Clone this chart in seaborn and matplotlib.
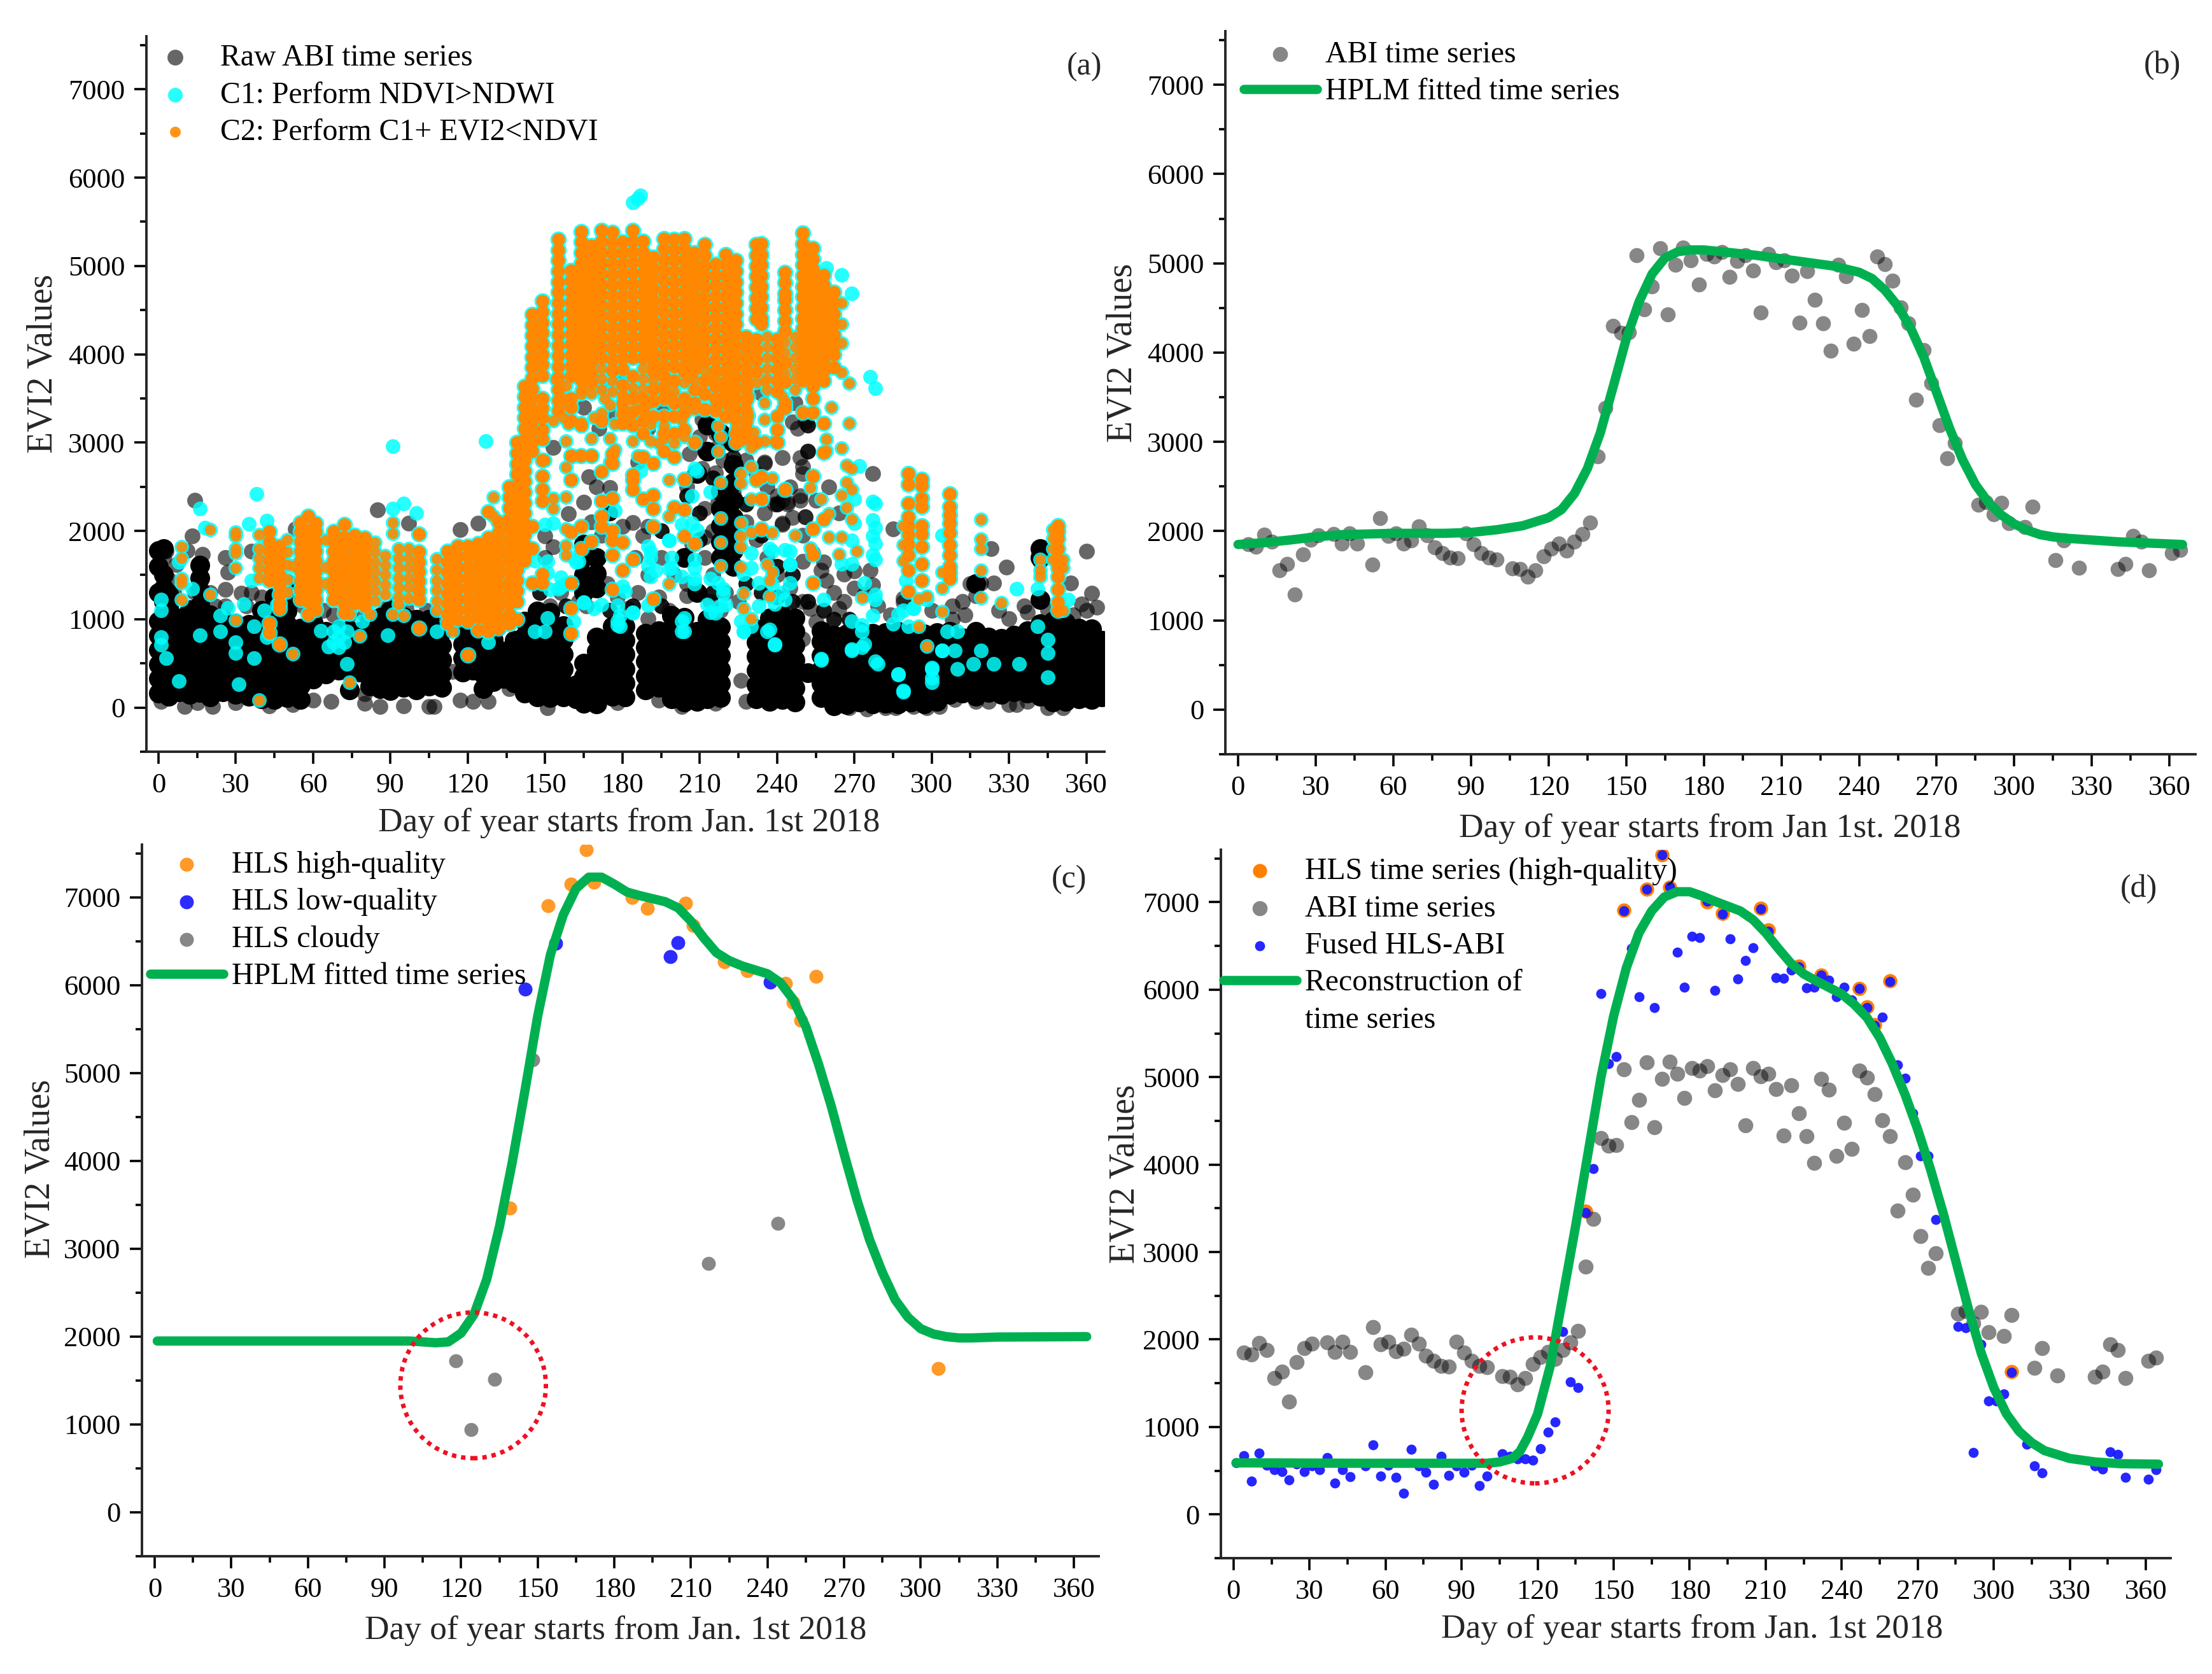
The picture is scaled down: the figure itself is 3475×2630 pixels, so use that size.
import matplotlib
matplotlib.use("Agg")
import matplotlib.pyplot as plt
import seaborn as sns
from matplotlib.patches import Ellipse

sns.set_theme(style="ticks")
plt.rcParams['font.family'] = ['Liberation Serif', 'DejaVu Serif']

W, H = 3475, 2630

x_ticks = list(range(0, 361, 30))
y_ticks = list(range(0, 7001, 1000))

# panel (a): solid black part of the raw ABI cloud, (day, values)
raw_core_q1 = [
    (0, [160, 330, 490, 650, 820, 980, 1300, 1600, 1780]), (2, [1050, 1200, 1350, 1500, 1800]), (4, [130, 300, 470, 610, 790, 950, 1130, 1290]),
    (8, [180, 340, 510, 680, 840, 1010]), (12, [150, 310, 470, 640, 810, 960, 1110]),
    (16, [170, 330, 500, 660, 830, 990, 1160, 1320, 1470, 1610]), (20, [120, 290, 450, 610, 790, 950, 1050]),
    (25, [180, 350, 510, 680, 840, 1000]), (30, [150, 310, 480, 640, 810, 950]),
    (35, [130, 300, 460, 630, 790, 940]), (40, [100, 270, 430, 600, 760, 920, 1100]),
    (45, [90, 250, 420, 580, 750, 910, 1080, 1250]), (50, [110, 280, 440, 610, 770, 940, 1090, 1240, 1400]),
    (55, [90, 250, 410, 580, 740, 900]), (60, [320, 480, 640, 800, 960]),
    (65, [380, 540, 700, 860]), (70, [420, 570, 730, 880]),
    (74, [200, 400, 560, 720, 880]), (78, [400, 560, 720, 860]),
    (82, [240, 390, 550, 710, 870, 1000]), (86, [210, 370, 530, 690, 860, 1020]),
]
raw_core_q2 = [
    (90, [190, 350, 510, 680, 840, 1000, 1100]), (95, [230, 390, 550, 710, 870, 1030]),
    (100, [200, 360, 520, 690, 850, 1000]), (105, [240, 400, 560, 720, 880, 1000]),
    (110, [230, 380, 540, 700, 860]), (118, [400, 560, 720, 880]), (122, [420, 580, 740, 900]),
    (126, [210, 380, 540, 690]), (130, [290, 450, 610, 770]), (134, [330, 480, 640]),
    (138, [280, 440, 600, 760]), (142, [160, 330, 490, 650, 810, 980]),
    (147, [120, 280, 440, 610, 770, 930, 1090]), (152, [110, 270, 430, 590, 760, 920, 1080]),
    (157, [120, 280, 440, 600, 770, 930]), (162, [100, 260]),
    (165, [50, 200, 350, 500, 1300, 1500, 1700, 1850]), (170, [40, 190, 340, 490, 640, 800, 1350, 1520, 1700]),
    (176, [130, 290, 450, 600, 760, 920]), (181, [120, 280, 440, 600, 760, 920]),
]
raw_core_q3 = [
    (189, [200, 360, 520, 680, 840]), (194, [230, 390, 550, 710, 870]),
    (199, [100, 260, 420, 580, 740, 900, 1040]), (204, [60, 220, 380, 540, 700, 860, 1020, 1700]),
    (209, [70, 230, 390, 540, 700, 860, 1300, 2650]), (213, [100, 260, 420, 590, 740, 880, 1000, 2900, 3200]),
    (218, [110, 270, 430, 590, 750, 910, 1700, 1880, 2060, 2250, 2450, 3100]),
    (223, [1600, 1780, 1960, 2150, 2350, 2550, 2750, 3000]), (232, [100, 260, 420, 580, 740, 890]),
    (237, [70, 230, 390, 550, 710, 870, 1010]), (242, [90, 250, 410, 570, 730, 880, 1040]),
    (247, [60, 220, 380, 540, 700, 860, 1010]), (252, [390]),
    (257, [110, 270, 430, 590, 750, 870]), (262, [20, 180, 340, 500, 660, 820]),
    (267, [30, 190, 350, 510, 670, 830]), (272, [60, 220, 380, 540, 700, 860]),
]
raw_core_q4 = [
    (277, [40, 200, 360, 520, 680, 840]), (282, [50, 210, 370, 530, 690, 850]),
    (287, [40, 190, 350, 520, 680, 860]), (292, [60, 220, 380, 530, 690, 840]),
    (297, [40, 200, 360, 520, 680, 830]), (302, [70, 230, 390, 550, 700, 850]),
    (307, [150, 300, 460, 620, 780, 860]), (312, [160, 320, 470, 630, 790]),
    (317, [130, 290, 450, 610, 770, 860, 1400]), (322, [170, 330, 480, 640, 800]),
    (327, [150, 310, 470, 630, 780]), (332, [180, 340, 500, 650, 820]),
    (337, [160, 320, 480, 640, 800, 870]), (342, [130, 290, 450, 600, 770, 950, 1220, 1700, 1800]),
    (347, [60, 220, 380, 540, 700, 860, 980]), (352, [70, 230, 390, 550, 710, 870, 960]),
    (357, [100, 260, 420, 580, 740, 900]), (362, [90, 250, 410, 570, 730, 890]),
    (366, [120, 280, 440, 600, 760]),
]
# panel (a): darker raw clumps between the two clouds
raw_dark = [
    (148, [1300]), (158, [1150]), (175, [1100, 2200]), (184, [1150]), (195, [2000, 1150]), (205, [2400]),
    (210, [1900, 2200]), (215, [2600, 1300]), (228, [1400, 2300]), (234, [1300, 1950]), (240, [1250, 1600, 2300]),
    (246, [1200, 1500]), (252, [1200, 3200, 2900]), (258, [1100]), (262, [1000]), (268, [1000]),
]

# panel (a): separate translucent raw ABI points
raw_days = [14, 3, 1, 13, 17, 26, 27, 26, 32, 36, 85, 97, 117, 124, 53, 1, 10, 21, 15, 30, 38, 43, 52, 60, 67,
            80, 80, 86, 95, 105, 107, 117, 122, 57, 114, 128, 136, 151, 161, 171, 178, 194, 203, 216, 228, 226,
            175, 184, 167, 153, 165, 188, 212, 212, 217, 242, 235, 239, 251, 249, 244, 216, 211, 249, 250, 205,
            190, 198, 159, 150, 223, 223, 223, 223, 179, 173, 165, 241, 234, 247, 246, 248, 251, 235, 153, 196,
            211, 223, 206, 210, 217, 190, 171, 176, 186, 277, 250, 242, 249, 244, 251, 242, 257, 259, 266, 276,
            277, 253, 264, 255, 250, 285, 323, 329, 360, 362, 364, 358, 315, 324, 319, 317, 308, 313, 337, 330,
            342, 342, 342, 354, 253, 268, 275, 282, 286, 293, 298, 303, 309, 317, 322, 330, 333, 337, 345, 351,
            359, 365, 289, 1, 11, 7, 5]
raw_vals = [2348, 1772, 1580, 1940, 1736, 1700, 1532, 1340, 1292, 1772, 2240, 2084, 2012, 2084, 2024, 70, 10, 10,
            58, 58, 118, 20, 33, 82, 70, 153, 46, 10, 22, 10, 10, 82, 70, 310, 405, 70, 215, -2, 140, 33, 58, 82,
            10, 46, 70, 310, 2490, 2096, 2611, 1820, 2324, 1940, 1928, 2252, 2324, 2084, 2767, 2300, 2156, 2395,
            2300, 2659, 2707, 2827, 1652, 1268, 1004, 1100, 2192, 1940, 2827, 2443, 2132, 1772, 3715, 3620, 3400,
            3666, 3560, 3450, 3235, 3163, 3235, 2780, 2948, 3400, 3260, 2830, 2875, 3066, 2950, 3163, 3163, 3330,
            2780, 2647, 2731, 2827, 2347, 2324, 2156, 2072, 1556, 1436, 1508, 1556, 1388, 1124, 1124, 969, 777,
            2024, 1796, 1592, 1772, 1292, 1136, 1172, 1400, 1412, 1412, 1268, 1148, 1052, 1077, 1005, 1796, 1652,
            1220, 1412, 381, -2, -15, -2, -2, 10, -2, 10, 94, 70, 70, 33, 33, 70, -2, -2, 94, 118, 1196, 1300, 1780,
            1620, 1240]
raw_mid_days = [152, 156, 150, 163, 166, 168, 172, 174, 178, 182, 186, 190, 194, 170, 175, 180, 185, 190, 195, 200,
                205, 210, 214, 218, 215, 220, 225, 207, 212, 215, 222, 228, 232, 236, 240, 245, 250, 235, 240, 245,
                250, 228, 232, 236, 242, 246, 250, 254, 258, 262, 266, 270, 255, 260, 264, 270, 274, 279, 284, 289,
                300, 308, 312, 326, 336, 345, 355, 360, 205, 208, 212, 216, 219, 213, 220, 224, 2, 6, 4, 2, 14, 20,
                22, 26, 34, 40, 36, 44, 52, 56, 60, 64, 68, 74, 80, 88, 92, 96, 104, 110, 114, 118, 124, 128, 132, 136]
raw_mid_vals = [1150, 1300, 1700, 1200, 1150, 2100, 1950, 1400, 1250, 1120, 1300, 1500, 1250, 2500, 2200, 2050, 1700,
                2050, 1700, 1500, 1400, 1300, 1200, 1100, 1500, 1300, 1200, 1850, 1700, 2000, 2400, 2100, 1900, 1700,
                1500, 1350, 1200, 2200, 2400, 2500, 2650, 2800, 2650, 2500, 2350, 2150, 1950, 1750, 1650, 1300, 1200,
                1350, 2350, 2500, 2200, 1550, 1280, 1150, 1050, 1240, 1100, 1000, 1200, 1100, 1150, 1100, 1050, 1100,
                2500, 2650, 2900, 3100, 2800, 3200, 3350, 3000, 1250, 1300, 1450, 1700, 1300, 1300, 1150, 1150, 1150,
                1250, 1300, 1500, 1200, 1150, 1150, 1100, 1050, 1050, 1050, 1120, 1180, 1120, 1100, 1000, 950, 1000,
                1100, 1050, 900, 1000]

# panel (a): points that pass C1 but not C2
c1_days = [1, 1, 1, 1, 3, 8, 8, 16, 18, 13, 16, 24, 27, 24, 30, 30, 31, 33, 35, 38, 36, 37, 37, 42, 41, 42, 46, 63,
           68, 68, 70, 73, 73, 70, 79, 89, 91, 91, 95, 100, 108, 127, 128, 146, 151, 150, 151, 155, 161, 162, 158,
           165, 172, 179, 179, 184, 180, 187, 190, 193, 198, 199, 204, 204, 208, 208, 209, 209, 213, 219, 216,
           220, 227, 230, 230, 236, 239, 243, 245, 245, 238, 238, 257, 258, 259, 265, 269, 276, 278, 269, 273,
           273, 279, 278, 278, 278, 278, 278, 272, 287, 289, 285, 291, 293, 298, 300, 300, 304, 306, 310, 309,
           310, 304, 316, 319, 324, 334, 333, 341, 345, 345, 345, 341, 353, 184, 187, 186, 70, 72, 66]
c1_vals = [1100, 1220, 800, 710, 557, 297, 1646, 2252, 2040, 1344, 817, 1041, 1132, 860, 617, 738, 266, 1174, 2082,
           2421, 1435, 920, 557, 2119, 1100, 800, 1162, 870, 860, 740, 920, 860, 496, 680, 980, 817, 2960, 2252,
           2312, 2203, 860, 3020, 740, 860, 1010, 860, 1525, 1344, 980, 1646, 1404, 1192, 1162, 1041, 920, 1071,
           1374, 2675, 1828, 1556, 1889, 1586, 1011, 860, 1586, 1404, 2010, 2675, 1162, 1344, 1071, 1162, 860, 920,
           1586, 860, 708, 1222, 1616, 1768, 1768, 1404, 539, 1222, 4976, 4897, 4691, 3741, 3614, 648, 860, 680,
           496, 1283, 2312, 2040, 1858, 1677, 2736, 375, 175, 950, 920, 1132, 1222, 436, 284, 648, 860, 860, 648,
           436, 1950, 496, 648, 496, 496, 1344, 920, 617, 345, 769, 1344, 1222, 5720, 5800, 5760, 800, 740, 690]
c1_mid_days = [150, 153, 146, 151, 156, 156, 152, 163, 161, 165, 169, 178, 178, 178, 177, 181, 184, 190, 191, 191, 190,
               191, 198, 199, 198, 203, 207, 208, 214, 203, 207, 208, 208, 214, 217, 219, 218, 214, 203, 203, 230, 227,
               226, 227, 233, 237, 243, 245, 245, 242, 233, 239, 237, 239, 277, 277, 277, 277, 270, 270, 269, 265, 269,
               274, 278, 273, 269, 277, 269, 274, 257, 278, 287, 289, 287, 290, 289, 293, 300, 300, 304]
c1_mid_vals = [2072, 2084, 1664, 1652, 1472, 1364, 1340, 1652, 1700, 1185, 1124, 1160, 980, 932, 2228, 1316, 1077, 1160,
               1760, 1700, 1604, 1484, 1892, 1700, 1568, 1484, 2395, 2707, 2443, 2072, 2084, 1676, 1460, 1460, 1412, 1292,
               1148, 1077, 980, 860, 1748, 1508, 980, 860, 1412, 1796, 1784, 1616, 1412, 1304, 1148, 1172, 885, 717, 2335,
               2120, 1940, 1724, 2360, 2084, 1892, 1628, 1628, 1412, 1220, 933, 980, 1040, 657, 717, 549, 525, 381, 190,
               1053, 1436, 1100, 1124, 453, 333, 645]

# panel (a): points that pass C2, low season columns
c2_low = [
    (9, [1820, 1688, 1460, 1412, 1220]), (20, [2012, 1280]), (30, [1988, 1940, 1796, 1748, 1580, 993]),
    (39, [1960, 1800, 1690, 1580, 1470, 81]), (43, [1990, 1880, 1770, 1660, 1550, 1440, 956, 849]),
    (47, [1830, 1720, 1610, 1500, 1390, 1280, 1180, 1120, 717]), (50, [1900, 1760, 1620, 1450, 1310]),
    (52, [1604, 610]), (55, [2095, 1990, 1880, 1770, 1660, 1550, 1440, 1330, 1220]),
    (58, [2168, 2010, 1880, 1770, 1660, 1550, 1440, 1330, 1200, 1053]),
    (61, [2084, 1990, 1880, 1770, 1660, 1550, 1440, 1330, 1220, 1110]), (65, [1900, 1590, 1400]),
    (68, [1990, 1880, 1770, 1660, 1550, 1440, 1330, 1220]),
    (72, [2072, 1930, 1820, 1710, 1600, 1490, 1380, 1270, 1160, 1070]),
    (74, [285, 1053]), (76, [1950, 1840, 1730, 1620, 1510, 1400, 1290, 1180]), (78, [813]),
    (80, [1920, 1810, 1700, 1590, 1480, 1370, 1260, 1150]), (82, [1053]),
    (84, [1870, 1760, 1650, 1540, 1430, 1320, 1210]), (88, [1720, 1610, 1500, 1390, 1280]),
    (91, [2096, 1975, 1053]), (93, [1800, 1690, 1580, 1470, 1360, 1250, 1170]),
    (95, [1040]), (97, [1800, 1690, 1580, 1470, 1360, 1240]), (101, [1964, 1760, 1650, 1540, 1430, 1320, 1220, 897]),
]
c2_spring = [
    (108, [1680, 1560, 1440, 1330, 1210, 1100]), (112, [1770, 1650, 1530, 1410, 1290, 1180, 1060, 957]),
    (114, [861]), (116, [1830, 1710, 1590, 1470, 1350, 1230, 1110, 1000]),
    (120, [1830, 1710, 1590, 1470, 1350, 1230, 1110, 980, 597]), (124, [1860, 1740, 1620, 1500, 1380, 1260, 1140, 1020, 880]),
    (128, [2220, 1920, 1800, 1680, 1560, 1440, 1320, 1200, 1080, 960, 860]), (130, [2384, 2168]),
    (132, [2100, 1980, 1860, 1740, 1620, 1500, 1380, 1260, 1140, 1020, 900]),
    (136, [2500, 2380, 2260, 2140, 2020, 1900, 1780, 1660, 1540, 1420, 1300, 1180, 1060, 950]),
    (139, [3000, 2880, 2760, 2640, 2520, 2400, 2280, 2160, 2040, 1920, 1800, 1680, 1560, 1440, 1320, 1200, 1000]),
    (142, [3640, 3520, 3400, 3280, 3160, 3040, 2920, 2800, 2680, 2560, 2440, 2320, 2200, 2080, 1960, 1840, 1700, 1664]),
    (145, [4450, 4330, 4210, 4090, 3970, 3850, 3730, 3610, 3490, 3370, 3250, 3130, 3010, 2900, 2048, 1796, 1412]),
    (149, [4600, 4480, 4360, 4240, 4120, 4000, 3880, 3760, 3500, 3390, 3280, 3150, 3040, 2803, 2623, 2467, 2336, 1508, 1412]),
]
# panel (a): C2 columns of the summer plateau
c2_summer_1 = [
    (153, [2371, 2252]),
    (155, [5300, 5180, 5060, 4940, 4820, 4700, 4580, 4460, 4340, 4220, 4100, 3980, 3860, 3740, 3600, 3480, 3360]),
    (158, [2719, 2384, 2024, 1832, 1724]),
    (160, [4950, 4830, 4710, 4590, 4470, 4350, 4230, 4110, 3990, 3870, 3750, 3500, 3400, 3250, 2851, 2575, 1988, 1412, 1124, 837]),
    (164, [5390, 5270, 5150, 5030, 4910, 4790, 4670, 4550, 4430, 4310, 4190, 4070, 3950, 3830, 3710, 3200, 2851, 2048, 1796]),
    (168, [5230, 5110, 4990, 4870, 4750, 4630, 4510, 4390, 4270, 4150, 4030, 3910, 3790, 3670, 2851, 1875]),
    (172, [5400, 5280, 5160, 5040, 4920, 4800, 4680, 4560, 4440, 4320, 4200, 4080, 3960, 3250, 2671, 2336, 2168, 2048]),
    (176, [5380, 5260, 5140, 5020, 4900, 4780, 4660, 4540, 4420, 4300, 4180, 4060, 3940, 3820, 2875, 2767, 2371, 2000, 1892, 1724, 1340]),
    (180, [5270, 5150, 5030, 4910, 4790, 4670, 4550, 4430, 4310, 4190, 4070, 3950, 3830, 3650, 3440, 3330, 3220, 1868, 1556]),
    (184, [5400, 5280, 5160, 5040, 4920, 4800, 4680, 4560, 4440, 4320, 4200, 4080, 3960, 3750, 3500, 3350, 3200, 2635, 2575, 2467, 1676]),
    (188, [5280, 5160, 5040, 4920, 4800, 4680, 4560, 4440, 4320, 4200, 4080, 3960, 3500, 3380, 3250, 3100, 2839, 2360]),
    (192, [5100, 4980, 4860, 4740, 4620, 4500, 4380, 4260, 4140, 4020, 3900, 3800, 3600, 3470, 3300, 2767, 2407, 2252, 2048, 1232]),
    (196, [5310, 5190, 5070, 4950, 4830, 4710, 4590, 4470, 4350, 4230, 4110, 3990, 3870, 3750, 3630, 3500, 3300, 3100, 2900]),
    (198, [2575, 2168, 1400]),
]
c2_summer_2 = [
    (200, [5300, 5180, 5060, 4940, 4820, 4700, 4580, 4460, 4340, 4220, 4100, 3980, 3860, 3700, 3450, 3300, 3100, 2839, 2264]),
    (204, [5310, 5190, 5070, 4950, 4830, 4710, 4590, 4470, 4350, 4230, 4110, 3990, 3870, 3800, 3500, 3340, 3150, 2587, 2240, 1940]),
    (208, [5150, 5030, 4910, 4790, 4670, 4550, 4430, 4310, 4190, 4070, 3950, 3830, 3600, 3450, 3000, 1856]),
    (212, [5240, 5120, 5000, 4880, 4760, 4640, 4520, 4400, 4280, 4160, 4040, 3920, 3700, 3550, 3380]),
    (216, [5020, 4900, 4780, 4660, 4540, 4420, 4300, 4180, 4060, 3940, 3820, 3640, 3500, 3360]),
    (218, [2551, 2144, 1868, 1604]),
    (220, [5130, 5010, 4890, 4770, 4650, 4530, 4410, 4290, 4170, 4050, 3930, 3810, 3690, 3570, 3450, 3300]),
    (224, [5060, 4940, 4820, 4700, 4580, 4460, 4340, 4220, 4100, 3980, 3860, 3740, 3620, 3500, 3380, 3260, 3100, 3000]),
    (226, [2647, 2539, 2096, 1940, 1820, 1592]), (227, [1292, 1124]),
    (228, [4200, 4080, 3960, 3840, 3720, 3600, 3480, 3360, 3240, 3150, 3050]),
    (230, [2731, 2360, 1988, 1004]),
    (232, [5240, 5120, 5000, 4880, 4760, 4640, 4520, 4400, 4170, 4050, 3930, 3800, 3000, 2575]),
    (234, [5250, 5130, 5010, 4890, 4770, 4650, 4530, 4410, 4340, 2611, 2360, 2024]),
    (236, [4200, 4080, 3960, 1616]), (238, [2599, 1976, 1532]), (237, [1436, 1256]),
    (240, [4170, 4060, 3950, 3830, 3700, 3580, 3300, 3150, 3000]),
    (243, [4930, 4810, 4690, 4620, 4500, 4380, 4260, 3900, 3690, 3450, 3390, 2467]),
    (247, [4200, 4080, 3960, 3840, 3720, 1952]),
    (250, [5370, 5250, 5130, 5010, 4890, 4770, 4650, 4530, 4410, 4290, 4170, 4050, 3930, 3810, 3700, 3340]),
]
c2_autumn = [
    (253, [2491, 1808]), (254, [5200, 5080, 4960, 4840, 4720, 4600, 4480, 4360, 4240, 4120, 4000, 3880, 3760, 3640, 3500, 3340, 2623, 2024, 1736, 1412]),
    (257, [2360]), (258, [4900, 4780, 4660, 4540, 4420, 4300, 4180, 4060, 3940, 3820, 3700, 3220, 2887, 2132]),
    (259, [3040, 2911]), (260, [2192, 1928]), (261, [3400]), (262, [4700, 4580, 4460, 4340, 4220, 4100, 4000, 3850]),
    (264, [1736]), (265, [4580, 4340, 4128, 3795, 2935, 2407, 1928]), (267, [2743, 2551, 2264]),
    (268, [3674, 3220]), (269, [2707, 2467, 2132]), (271, [1772]), (273, [1244]),
    (289, [2060, 1844, 1664]), (291, [2647, 2527, 2312, 2156, 2060, 1960, 1850, 1724, 1556, 1316]),
    (295, [1232, 920]), (296, [2587, 2515, 2371, 2276, 2060, 1964, 1820, 1628, 1436]), (298, [1256, 693]),
    (304, [1532, 1352, 1088]), (307, [2419, 2276, 2180, 2084, 1976, 1844, 1724, 1600, 1532, 1460]),
    (319, [2132, 1904, 1796, 1556, 1244]), (327, [1184]), (342, [1676, 1556, 1484]),
    (347, [2012, 1916, 1796, 1676]), (349, [2060, 1990, 1916, 1796, 1676, 1580, 1480, 1340, 1196, 1100]), (351, [1676, 1580, 1100]),
]
# panel (a): loose C2 points under the plateau
c2_mid_days = [157, 159, 164, 165, 158, 154, 173, 172, 175, 180, 180, 185, 186, 183, 177, 175, 168, 169, 164, 159, 157,
               153, 158, 150, 160, 168, 163, 175, 177, 184, 186, 191, 191, 191, 196, 196, 203, 204, 199, 196, 194, 204,
               200, 206, 208, 211, 214, 216, 217, 218, 217, 221, 223, 221, 224, 226, 230, 235, 239, 229, 229, 235, 235,
               235, 229, 242, 242, 231, 228,
               164, 168, 172, 172, 172, 176, 176, 180, 184, 188, 188, 188, 192, 200, 204, 208, 212, 216, 232, 236, 236,
               236, 243, 243, 243, 247]
c2_mid_vals = [3500, 3427, 3547, 3643, 3643, 3715, 3500, 3331, 3427, 3523, 3379, 3523, 3379, 3259, 3211, 3044, 3044, 3284,
               3223, 3211, 3284, 3247, 3020, 2803, 2840, 2852, 2852, 2780, 2924, 3020, 2852, 3020, 3211, 3451, 3595, 3187,
               3259, 3427, 3523, 3044, 2996, 3068, 2996, 3739, 3379, 3595, 3739, 3415, 3187, 3068, 2900, 3619, 3451, 3331,
               3163, 3020, 2948, 3020, 3020, 3523, 3667, 3691, 3451, 3259, 3307, 3523, 3379, 3115, 3044,
               3590, 3560, 3840, 3720, 3600, 3700, 3580, 3540, 3620, 3840, 3720, 3610, 3700, 3580, 3680, 3710, 3820, 3730,
               3680, 3840, 3720, 3600, 4140, 4020, 3780, 3600]

# ABI composite used in (b) and (d)
abi_days = [4, 7, 10, 13, 16, 19, 22, 25, 28, 31, 37, 40, 43, 46, 52, 55, 58, 61, 64, 67, 70, 73, 76, 79, 82, 85, 88, 91,
            94, 97, 100, 106, 109, 112, 115, 118, 121, 124, 127, 130, 133, 136, 139, 142, 145, 148, 151, 154, 157, 160,
            163, 166, 169, 172, 175, 178, 181, 184, 187, 190, 193, 196, 199, 202, 205, 208, 211, 214, 217, 220, 223,
            226, 229, 232, 235, 238, 241, 244, 247, 250, 253, 256, 259, 262, 265, 268, 271, 274, 277, 286, 289, 292,
            295, 298, 304, 307, 316, 319, 325, 340, 343, 346, 349, 352, 361, 364]
abi_vals = [1851, 1827, 1959, 1881, 1562, 1634, 1292, 1742, 1905, 1953, 1965, 1857, 1971, 1857, 1628, 2145, 1947, 1971,
            1863, 1893, 2055, 1953, 1815, 1755, 1700, 1694, 1977, 1851, 1755, 1700, 1682, 1580, 1574, 1490, 1562, 1718,
            1803, 1857, 1779, 1881, 1965, 2097, 2836, 3377, 4302, 4218, 4224, 5089, 4482, 4741, 5167, 4428, 4981, 5179,
            5035, 4759, 5107, 5077, 5125, 4849, 5023, 5089, 4921, 4446, 5101, 5011, 5035, 4861, 4332, 4909, 4590, 4326,
            4020, 4981, 4855, 4098, 4476, 4182, 5077, 4993, 4806, 4506, 4326, 3473, 4026, 3659, 3185, 2818, 2986, 2295,
            2325, 2187, 2313, 2085, 2043, 2277, 1676, 1899, 1592, 1574, 1634, 1947, 1881, 1562, 1755, 1791]

fit_b_days = [0, 10, 20, 30, 40, 60, 80, 90, 100, 110, 120, 125, 130, 135, 140, 145, 150, 155, 160, 165, 170, 175, 180, 190,
              200, 210, 220, 230, 240, 245, 250, 255, 260, 265, 270, 275, 280, 285, 290, 295, 300, 305, 310, 315, 320,
              340, 365]
fit_b_vals = [1850, 1870, 1900, 1935, 1960, 1975, 1975, 1985, 2015, 2060, 2150, 2240, 2420, 2700, 3100, 3620, 4150, 4570,
              4880, 5060, 5130, 5150, 5150, 5120, 5090, 5050, 5010, 4970, 4900, 4830, 4700, 4520, 4270, 3950, 3550, 3150,
              2800, 2520, 2320, 2180, 2080, 2010, 1960, 1935, 1920, 1880, 1850]

# HLS classes used in (c) and (d)
hq_days = [139, 154, 163, 169, 172, 187, 193, 208, 211, 223, 232, 247, 250, 253, 259, 307]
hq_vals = [3466, 6908, 7152, 7543, 7170, 7000, 6872, 6933, 6682, 6267, 6164, 6017, 5804, 5602, 6102, 1635]
lq_days = [145, 157, 202, 205, 241]
lq_vals = [5956, 6475, 6328, 6487, 6035]
cloudy_days = [118, 124, 133, 148, 217, 244]
cloudy_vals = [1727, 940, 1513, 5150, 2832, 3289]

fit_c_days = [1, 50, 100, 110, 115, 120, 125, 130, 135, 140, 145, 150, 155, 160, 165, 170, 175, 180, 185, 190, 200, 205, 210,
              215, 220, 225, 230, 240, 245, 250, 255, 260, 265, 270, 275, 280, 285, 290, 295, 300, 305, 310, 315, 320, 330, 365]
fit_c_vals = [1950, 1950, 1950, 1930, 1940, 2040, 2250, 2650, 3250, 3980, 4800, 5650, 6350, 6800, 7100, 7230, 7230, 7150, 7060,
              7020, 6950, 6880, 6730, 6540, 6370, 6280, 6220, 6130, 6030, 5840, 5530, 5100, 4620, 4080, 3560, 3100, 2730, 2420,
              2220, 2090, 2030, 2000, 1985, 1985, 1995, 2000]

fused_days = [1, 4, 7, 10, 13, 16, 19, 22, 25, 28, 31, 34, 37, 40, 43, 46, 52, 55, 58, 61, 64, 67, 70, 73, 76, 79, 82, 85, 88, 91,
              94, 97, 100, 106, 109, 112, 115, 118, 121, 124, 127, 130, 133, 136, 139, 142, 145, 148, 151, 154, 157, 160, 163,
              166, 169, 172, 175, 178, 181, 184, 187, 190, 193, 196, 199, 202, 205, 208, 211, 214, 217, 220, 223, 226, 229, 232,
              235, 238, 241, 244, 247, 250, 253, 256, 259, 262, 265, 268, 271, 274, 277, 286, 289, 292, 295, 298, 301, 304, 307,
              313, 316, 319, 340, 343, 346, 349, 352, 361, 364]
fused_vals = [589, 669, 380, 700, 564, 509, 491, 393, 577, 491, 552, 509, 650, 356, 515, 429, 558, 798, 442, 564, 423, 245, 742,
              552, 479, 344, 663, 448, 552, 479, 564, 331, 436, 693, 663, 632, 638, 620, 755, 939, 1061, 2092, 1515, 1448, 3454,
              3957, 5957, 5153, 5233, 6902, 6472, 5920, 7147, 5798, 7540, 7178, 6429, 6025, 6613, 6595, 7012, 5994, 6865, 6583,
              6123, 6331, 6478, 6926, 6669, 6135, 6129, 6221, 6258, 6018, 6025, 6166, 6110, 5920, 6031, 5883, 6012, 5798, 5595,
              5687, 6092, 5141, 4988, 4589, 4098, 4098, 3374, 2147, 2135, 706, 1945, 1301, 1301, 1380, 1626, 804, 552, 472, 558,
              521, 718, 687, 423, 405, 509]

fit_d_days = [1, 50, 100, 105, 110, 113, 116, 120, 125, 130, 135, 140, 145, 150, 155, 160, 165, 170, 175, 180, 185, 190, 200, 205,
              210, 215, 220, 225, 230, 240, 245, 250, 255, 260, 265, 270, 275, 280, 285, 290, 295, 300, 305, 310, 315, 320, 330,
              340, 350, 365]
fit_d_vals = [590, 585, 585, 600, 640, 720, 880, 1150, 1700, 2500, 3300, 4150, 5000, 5700, 6250, 6650, 6900, 7060, 7120, 7120, 7070,
              7010, 6900, 6800, 6650, 6470, 6300, 6180, 6100, 5950, 5830, 5680, 5450, 5150, 4800, 4400, 3950, 3450, 2900, 2350,
              1850, 1450, 1150, 950, 820, 730, 640, 600, 580, 575]


def explode(*groups):
    days, vals = [], []
    for group in groups:
        for day, values in group:
            days += [day] * len(values)
            vals += values
    return days, vals


def fig_xy(px, py):
    return px / W, 1 - py / H


def make_axes(left, right, top, bottom, xlim, ylabel_xy, xlabel, xlabel_xy, letter, letter_xy):
    ax = fig.add_axes([left / W, 1 - bottom / H, (right - left) / W, (bottom - top) / H])
    ax.set_xlim(*xlim)
    ax.set_ylim(-500, 7600)
    ax.set_xticks(x_ticks)
    ax.set_xticks(list(range(15, 360, 30)), minor=True)
    ax.set_yticks(y_ticks)
    ax.set_yticks(list(range(-500, 7600, 1000)), minor=True)
    ax.tick_params(axis='both', which='major', length=14, width=2.6, labelsize=32, color='black', labelcolor='black')
    ax.tick_params(axis='both', which='minor', length=7, width=2.6, color='black')
    ax.tick_params(axis='x', which='major', pad=10)
    ax.tick_params(axis='y', which='major', pad=10)
    sns.despine(ax=ax)
    ax.spines['left'].set_linewidth(2.8)
    ax.spines['bottom'].set_linewidth(2.8)
    ax.patch.set_alpha(0)
    fig.text(*fig_xy(*ylabel_xy), "EVI2 Values", rotation=90, fontsize=40, ha='center', va='center')
    fig.text(*fig_xy(*xlabel_xy), xlabel, fontsize=38.4, ha='center', va='center')
    fig.text(*fig_xy(*letter_xy), letter, fontsize=36, ha='center', va='center')
    return ax


def add_legend(ax, order, px, py):
    handles, labels = ax.get_legend_handles_labels()
    lookup = dict(zip(labels, handles))
    ax.legend([lookup[l] for l in order], order, loc='upper left', bbox_to_anchor=fig_xy(px, py),
              bbox_transform=fig.transFigure, frameon=False, fontsize=34.4, handlelength=2.4, handletextpad=0.28,
              labelspacing=0.3, borderpad=0, borderaxespad=0, scatterpoints=1, labelcolor='black')


def add_ring(ax, center, width, height):
    ax.add_patch(Ellipse(center, width, height, fill=False, edgecolor='#EE1122', linewidth=5,
                         linestyle=(0, (1, 1.1)), zorder=6))


def draw_fit(ax, days, vals, label):
    sns.lineplot(x=days, y=vals, ax=ax, color=green, linewidth=10.5, sort=False, errorbar=None,
                 solid_capstyle='round', solid_joinstyle='round', label=label)


green = '#00B050'
fig = plt.figure(figsize=(W / 100, H / 100), dpi=100, facecolor='white')

# (a)
ax_a = make_axes(230, 1735, 57, 1181, (-4.7, 367), (67, 571), "Day of year starts from Jan. 1st 2018", (988, 1293), "(a)", (1703, 105))
core_x, core_y = explode(raw_core_q1, raw_core_q2, raw_core_q3, raw_core_q4)
dark_x, dark_y = explode(raw_dark)
# tall columns merge into a solid mass in the picture, so they get a slightly larger dot
c2_groups = c2_low + c2_spring + c2_summer_1 + c2_summer_2 + c2_autumn
dense_x, dense_y = explode([g for g in c2_groups if len(g[1]) >= 8])
loose_x, loose_y = explode([g for g in c2_groups if len(g[1]) < 8])
sns.scatterplot(x=raw_days + raw_mid_days, y=raw_vals + raw_mid_vals, ax=ax_a, s=320, color='black', alpha=0.6, linewidth=0,
                label="Raw ABI time series")
sns.scatterplot(x=dark_x, y=dark_y, ax=ax_a, s=320, color='black', alpha=0.9, linewidth=0)
sns.scatterplot(x=core_x, y=core_y, ax=ax_a, s=500, color='black', linewidth=0)
sns.scatterplot(x=dense_x, y=dense_y, ax=ax_a, s=345, color='#00FFFF', alpha=0.85, linewidth=0)
sns.scatterplot(x=c1_days + c1_mid_days + loose_x + c2_mid_days, y=c1_vals + c1_mid_vals + loose_y + c2_mid_vals, ax=ax_a,
                s=275, color='#00FFFF', alpha=0.85, linewidth=0, label="C1: Perform NDVI>NDWI")
sns.scatterplot(x=dense_x, y=dense_y, ax=ax_a, s=215, color='#FF8800', linewidth=0)
sns.scatterplot(x=loose_x + c2_mid_days, y=loose_y + c2_mid_vals, ax=ax_a, s=150, color='#FF8800', alpha=0.9, linewidth=0,
                label="C2: Perform C1+ EVI2<NDVI")
add_legend(ax_a, ["Raw ABI time series", "C1: Perform NDVI>NDWI", "C2: Perform C1+ EVI2<NDVI"], 218, 69)

# (b)
ax_b = make_axes(1925, 3449, 49, 1185, (-4.9, 370), (1764, 554), "Day of year starts from Jan 1st. 2018", (2686, 1302), "(b)", (3397, 103))
draw_fit(ax_b, fit_b_days, fit_b_vals, "HPLM fitted time series")
sns.scatterplot(x=abi_days, y=abi_vals, ax=ax_b, s=290, color='black', alpha=0.47, linewidth=0, label="ABI time series")
add_legend(ax_b, ["ABI time series", "HPLM fitted time series"], 1954, 64)

# (c)
ax_c = make_axes(223, 1726, 1327, 2445, (-5, 369.7), (64, 1836), "Day of year starts from Jan. 1st 2018", (967, 2562), "(c)", (1680, 1382))
draw_fit(ax_c, fit_c_days, fit_c_vals, "HPLM fitted time series")
sns.scatterplot(x=hq_days, y=hq_vals, ax=ax_c, s=250, color='#FF9015', alpha=0.92, linewidth=0, label="HLS high-quality")
sns.scatterplot(x=lq_days, y=lq_vals, ax=ax_c, s=250, color='#1A1AFF', alpha=0.92, linewidth=0, label="HLS low-quality")
sns.scatterplot(x=cloudy_days, y=cloudy_vals, ax=ax_c, s=250, color='black', alpha=0.47, linewidth=0, label="HLS cloudy")
add_ring(ax_c, (124.7, 1446), 57, 1660)
add_legend(ax_c, ["HLS high-quality", "HLS low-quality", "HLS cloudy", "HPLM fitted time series"], 236, 1337)

# (d)
ax_d = make_axes(1918, 3410, 1335, 2448, (-5, 369.8), (1767, 1844), "Day of year starts from Jan. 1st 2018", (2658, 2560), "(d)", (3360, 1397))
sns.scatterplot(x=hq_days, y=hq_vals, ax=ax_d, s=260, color='#FF8000', linewidth=0, label="HLS time series (high-quality)")
draw_fit(ax_d, fit_d_days, fit_d_vals, "Reconstruction of")
# empty entry carries the second line of the wrapped legend label
ax_d.plot([], [], color='none', label="time series")
sns.scatterplot(x=abi_days, y=abi_vals, ax=ax_d, s=290, color='black', alpha=0.47, linewidth=0, label="ABI time series")
sns.scatterplot(x=fused_days, y=fused_vals, ax=ax_d, s=130, color='#1A1AFF', alpha=0.95, linewidth=0, label="Fused HLS-ABI")
add_ring(ax_d, (119, 1190), 58, 1669)
add_legend(ax_d, ["HLS time series (high-quality)", "ABI time series", "Fused HLS-ABI", "Reconstruction of", "time series"], 1922, 1347)

fig.savefig("out.png", dpi=100, facecolor='white')
